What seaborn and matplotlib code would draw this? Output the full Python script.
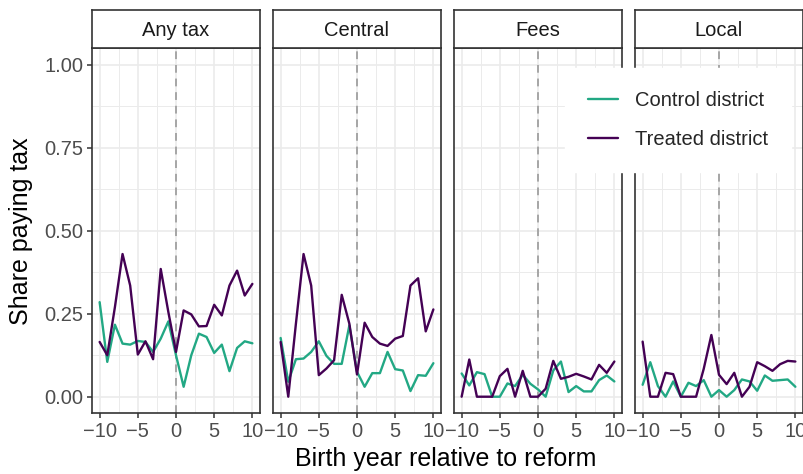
import numpy as np
import pandas as pd
import matplotlib
matplotlib.use("Agg")
import matplotlib.pyplot as plt
import seaborn as sns
from matplotlib.lines import Line2D

# Birth year relative to reform
years = list(range(-10, 11))
panels = ["Any tax", "Central", "Fees", "Local"]
groups = ["Control district", "Treated district"]

any_control = [0.285, 0.105, 0.217, 0.160, 0.157, 0.168, 0.165, 0.135, 0.175, 0.227, 0.125,
               0.030, 0.125, 0.190, 0.180, 0.132, 0.157, 0.077, 0.147, 0.167, 0.161]
any_treated = [0.165, 0.125, 0.270, 0.430, 0.335, 0.127, 0.167, 0.113, 0.385, 0.255, 0.135,
               0.260, 0.248, 0.212, 0.213, 0.277, 0.245, 0.335, 0.380, 0.305, 0.340]
central_control = [0.177, 0.045, 0.113, 0.115, 0.135, 0.167, 0.123, 0.099, 0.099, 0.215, 0.075,
                   0.030, 0.071, 0.071, 0.135, 0.083, 0.079, 0.017, 0.065, 0.063, 0.101]
central_treated = [0.165, 0.000, 0.220, 0.430, 0.335, 0.065, 0.085, 0.110, 0.307, 0.220, 0.067,
                   0.223, 0.180, 0.160, 0.153, 0.175, 0.183, 0.335, 0.357, 0.197, 0.263]
fees_control = [0.070, 0.034, 0.074, 0.068, 0.000, 0.000, 0.040, 0.032, 0.066, 0.039, 0.022,
                0.000, 0.079, 0.106, 0.014, 0.032, 0.016, 0.016, 0.050, 0.064, 0.046]
fees_treated = [0.000, 0.112, 0.000, 0.000, 0.000, 0.062, 0.084, 0.000, 0.078, 0.000, 0.000,
                0.024, 0.108, 0.054, 0.060, 0.069, 0.061, 0.052, 0.096, 0.072, 0.106]
local_control = [0.036, 0.104, 0.032, 0.000, 0.046, 0.000, 0.042, 0.032, 0.050, 0.000, 0.020,
                 0.000, 0.020, 0.052, 0.046, 0.018, 0.064, 0.048, 0.050, 0.052, 0.030]
local_treated = [0.166, 0.000, 0.000, 0.072, 0.068, 0.000, 0.000, 0.000, 0.084, 0.186, 0.066,
                 0.038, 0.072, 0.000, 0.030, 0.104, 0.092, 0.078, 0.098, 0.108, 0.106]

series = {
    ("Any tax", "Control district"): any_control,
    ("Any tax", "Treated district"): any_treated,
    ("Central", "Control district"): central_control,
    ("Central", "Treated district"): central_treated,
    ("Fees", "Control district"): fees_control,
    ("Fees", "Treated district"): fees_treated,
    ("Local", "Control district"): local_control,
    ("Local", "Treated district"): local_treated,
}

rows = []
for (panel, group), vals in series.items():
    for yr, v in zip(years, vals):
        rows.append({"panel": panel, "group": group, "year": yr, "share": v})
df = pd.DataFrame(rows)

palette = {"Control district": "#22A884", "Treated district": "#440154"}

sns.set_theme(style="white")
plt.rcParams["font.family"] = ["Liberation Sans", "DejaVu Sans"]

W, H = 804, 474
fig = plt.figure(figsize=(W / 100, H / 100), dpi=100)

def px_box(left, top, right, bottom):
    return [left / W, 1 - bottom / H, (right - left) / W, (bottom - top) / H]

panel_lefts = [92, 273, 454, 635]
panel_w = 168
top, bottom = 48.3, 413.3
strip_top = 10

grid_col = "#ebebeb"
dark = "#333333"

for i, (panel, left) in enumerate(zip(panels, panel_lefts)):
    ax = fig.add_axes(px_box(left, top, left + panel_w, bottom))
    sub = df[df["panel"] == panel]
    ax.axvline(0, color="#a6a6a6", linestyle=(0, (4, 3)), linewidth=1.4, zorder=1)
    sns.lineplot(data=sub, x="year", y="share", hue="group", palette=palette,
                 hue_order=groups, linewidth=1.7, ax=ax, legend=False, zorder=3)
    ax.set_xlim(-11, 11)
    ax.set_ylim(-0.05, 1.05)
    ax.set_xticks([-10, -5, 0, 5, 10])
    ax.set_xticks([-7.5, -2.5, 2.5, 7.5], minor=True)
    ax.set_yticks([0, 0.25, 0.5, 0.75, 1.0])
    ax.set_yticks([0.125, 0.375, 0.625, 0.875], minor=True)
    ax.grid(True, which="major", color=grid_col, linewidth=1.2, zorder=0)
    ax.grid(True, which="minor", color=grid_col, linewidth=0.7, zorder=0)
    ax.set_axisbelow(True)
    for s in ax.spines.values():
        s.set_color(dark)
        s.set_linewidth(1.2)
    ax.tick_params(which="major", length=3.6, width=1.1, color=dark,
                   labelsize=14.5, labelcolor="#4d4d4d", pad=2.5,
                   bottom=True, left=(i == 0))
    ax.tick_params(which="minor", length=0)
    ax.set_xlabel("")
    ax.set_ylabel("")
    ax.set_xticklabels(["\u221210", "\u22125", "0", "5", "10"])
    if i == 0:
        ax.set_yticklabels(["0.00", "0.25", "0.50", "0.75", "1.00"])
    else:
        ax.set_yticklabels([])

    # facet strip
    sax = fig.add_axes(px_box(left, strip_top, left + panel_w, top))
    sax.set_facecolor("white")
    sax.set_xticks([])
    sax.set_yticks([])
    for s in sax.spines.values():
        s.set_color(dark)
        s.set_linewidth(1.2)
    sax.text(0.5, 0.47, panel, ha="center", va="center", fontsize=14.5,
             color="#1a1a1a", transform=sax.transAxes)

fig.text(21 / W, 1 - 231 / H, "Share paying tax", rotation=90, ha="center",
         va="center", fontsize=18, color="black")
fig.text(446 / W, 1 - 459 / H, "Birth year relative to reform", ha="center",
         va="center", fontsize=18, color="black")

handles = [Line2D([], [], color=palette[g], linewidth=1.7) for g in groups]
leg = fig.legend(handles, groups, loc="center",
                 bbox_to_anchor=(678 / W, 1 - 120 / H),
                 frameon=True, fontsize=14.5, handlelength=1.5,
                 handletextpad=0.85, labelspacing=0.95, borderpad=1.15,
                 borderaxespad=0, fancybox=False)
leg.get_frame().set_facecolor("white")
leg.get_frame().set_edgecolor("white")
leg.get_frame().set_alpha(1.0)

fig.savefig("out.png", dpi=100)
